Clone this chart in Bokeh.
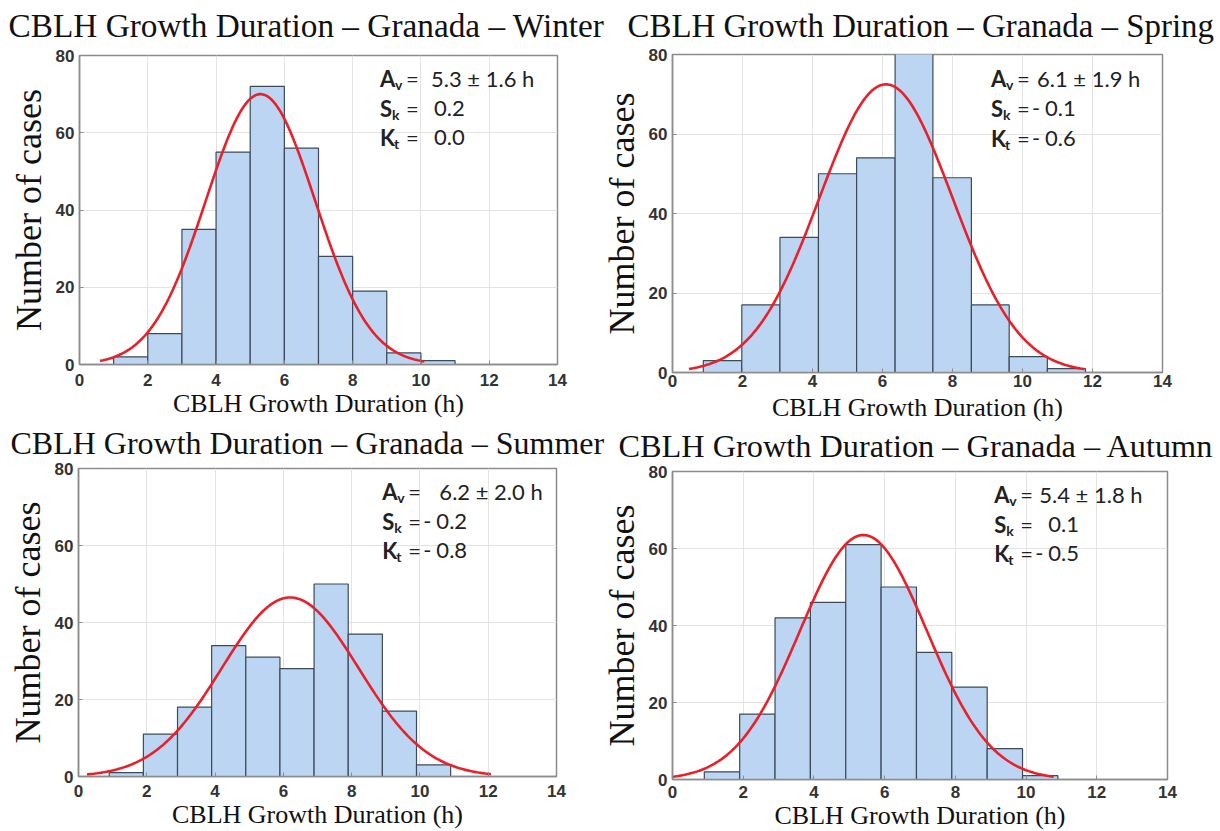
import numpy as np
from bokeh.plotting import figure
from bokeh.layouts import column, row
from bokeh.models import Range1d, FixedTicker, Title, ColumnDataSource
from bokeh.core.properties import value
from bokeh.embed import file_html
from bokeh.resources import INLINE

# ---------------- data ----------------
seasons = ["Winter", "Spring", "Summer", "Autumn"]

winter_edges = [1.0, 2.0, 3.0, 4.0, 5.0, 6.0, 7.0, 8.0, 9.0, 10.0, 11.0]
winter_counts = [2, 8, 35, 55, 72, 56, 28, 19, 3, 1]

spring_edges = [0.88, 1.98, 3.07, 4.17, 5.26, 6.36, 7.44, 8.54, 9.62, 10.71, 11.8]
spring_counts = [3, 17, 34, 50, 54, 85, 49, 17, 4, 1]

summer_edges = [0.9, 1.9, 2.9, 3.9, 4.9, 5.9, 6.9, 7.9, 8.9, 9.9, 10.9]
summer_counts = [1, 11, 18, 34, 31, 28, 50, 37, 17, 3]

autumn_edges = [0.9, 1.9, 2.9, 3.9, 4.9, 5.9, 6.9, 7.9, 8.9, 9.9, 10.9]
autumn_counts = [2, 17, 42, 46, 61, 50, 33, 24, 8, 1]

means = [5.3, 6.1, 6.2, 5.4]
sds = [1.6, 1.9, 2.0, 1.8]
skews = [0.2, -0.1, -0.2, 0.1]
kurts = [0.0, -0.6, -0.8, -0.5]

# fitted normal curve: peak height and drawn x-extent
fit_peaks = [70.0, 72.5, 46.5, 63.5]
fit_start = [0.6, 0.47, 0.25, 0.0]
fit_end = [10.1, 11.77, 12.08, 10.78]

x_ticks = [0, 2, 4, 6, 8, 10, 12, 14]
y_ticks = [0, 20, 40, 60, 80]

title_prefix = "CBLH Growth Duration – Granada – "
x_label = "CBLH Growth Duration (h)"
y_label = "Number of cases"

edges_all = [winter_edges, spring_edges, summer_edges, autumn_edges]
counts_all = [winter_counts, spring_counts, summer_counts, autumn_counts]

# ---------------- layout / style ----------------
# left, frame_w, right, top, frame_h, bottom
frames = [
    (79, 478, 48, 70, 309, 62),
    (80, 490, 58, 70, 318, 56),
    (78, 478, 49, 70, 308, 55),
    (80, 495, 53, 70, 308, 52),
]
# css margins (top, right, bottom, left) to place the frames precisely
margins = [
    (-15, 0, 0, 0),
    (-16, 0, 0, -13),
    (-30, 0, 0, 0),
    (-27, 0, 0, -13),
]
title_sizes = ["33.3px", "32.9px", "32px", "32.3px"]
title_offsets = [-71, -45, -68, -54]
title_standoffs = [23, 21, 15, 15]
tick_standoffs = [9, 2, 8, 6]
xlabel_standoffs = [0, 3, 0, 0]
stat_x = [8.8, 9.1, 8.9, 9.1]
stat_y = [74.0, 66.3, 58.8]
line1_offsets = [51, 46, 57, 45]

BAR_FILL = "#bcd5f2"
BAR_EDGE = "#3d4a5a"
CURVE = "#e8202a"
FRAME = "#8c8c8c"
TXT = "#222222"
STAT_FONT = value("Lato")
STAT_SIZE = "22px"


def make_panel(i):
    left, fw, right, top, fh, bottom = frames[i]
    p = figure(frame_width=fw, frame_height=fh,
               min_border_left=left, min_border_right=right,
               min_border_top=top, min_border_bottom=bottom,
               x_range=Range1d(0, 14), y_range=Range1d(0, 80),
               output_backend="svg", toolbar_location=None,
               background_fill_color="white", border_fill_alpha=0,
               margin=margins[i])
    p.title = Title(text=title_prefix + seasons[i], align="left",
                    offset=title_offsets[i], standoff=title_standoffs[i],
                    text_font="Liberation Serif", text_font_size=title_sizes[i],
                    text_font_style="normal", text_color="#111111")

    edges = edges_all[i]
    counts = counts_all[i]
    src = ColumnDataSource(dict(left=edges[:-1], right=edges[1:],
                                top=counts, bottom=[0] * len(counts)))
    p.quad(left="left", right="right", top="top", bottom="bottom", source=src,
           fill_color=BAR_FILL, line_color=BAR_EDGE, line_width=1.2)

    xs = np.linspace(fit_start[i], fit_end[i], 200)
    ys = fit_peaks[i] * np.exp(-0.5 * ((xs - means[i]) / sds[i]) ** 2)
    p.line(xs, ys, line_color=CURVE, line_width=2.6)

    # statistics text
    letters = ["A", "S", "K"]
    subs = ["v", "k", "t"]
    sub_off = [15, 12, 14]
    xs_s = [stat_x[i]] * 3
    p.text(x=xs_s, y=stat_y, text=letters, text_font=STAT_FONT,
           text_font_size=STAT_SIZE, text_font_style="bold",
           text_baseline="middle", text_color=TXT)
    p.text(x=xs_s, y=stat_y, text=subs, x_offset=sub_off, y_offset=6,
           text_font=STAT_FONT, text_font_size="14px",
           text_font_style="bold", text_baseline="middle", text_color=TXT)
    p.text(x=xs_s, y=stat_y, text=["="] * 3, x_offset=26,
           text_font=STAT_FONT, text_font_size=STAT_SIZE,
           text_baseline="middle", text_color=TXT)
    line1 = f"{means[i]:.1f} ± {sds[i]:.1f} h"
    p.text(x=[stat_x[i]], y=[stat_y[0]], text=[line1], x_offset=line1_offsets[i],
           text_font=STAT_FONT, text_font_size=STAT_SIZE,
           text_baseline="middle", text_color=TXT)
    nums = [skews[i], kurts[i]]
    p.text(x=[stat_x[i]] * 2, y=stat_y[1:], text=[f"{abs(v):.1f}" for v in nums],
           x_offset=54, text_font=STAT_FONT, text_font_size=STAT_SIZE,
           text_baseline="middle", text_color=TXT)
    neg_y = [stat_y[1 + k] for k, v in enumerate(nums) if v < 0]
    if neg_y:
        p.text(x=[stat_x[i]] * len(neg_y), y=neg_y, text=["-"] * len(neg_y),
               x_offset=41, text_font=STAT_FONT, text_font_size=STAT_SIZE,
               text_baseline="middle", text_color=TXT)

    # axes
    p.xaxis.ticker = FixedTicker(ticks=x_ticks)
    p.yaxis.ticker = FixedTicker(ticks=y_ticks)
    p.xgrid.ticker = FixedTicker(ticks=x_ticks)
    p.ygrid.ticker = FixedTicker(ticks=y_ticks)
    p.grid.grid_line_color = "#e3e3e3"
    p.grid.grid_line_width = 1
    for ax in (p.xaxis[0], p.yaxis[0]):
        ax.axis_line_color = FRAME
        ax.axis_line_width = 1.5
        ax.major_tick_in = 4
        ax.major_tick_out = 0
        ax.major_tick_line_color = FRAME
        ax.minor_tick_line_color = None
        ax.major_label_text_font = "Liberation Sans"
        ax.major_label_text_font_style = "bold"
        ax.major_label_text_font_size = "17px"
        ax.major_label_text_color = "#333333"
        ax.axis_label_text_font = "Liberation Serif"
        ax.axis_label_text_font_style = "normal"
        ax.axis_label_text_color = "#111111"
    p.xaxis.axis_label = x_label
    p.xaxis.axis_label_text_font_size = "26px"
    p.xaxis.major_label_standoff = tick_standoffs[i]
    p.xaxis.axis_label_standoff = xlabel_standoffs[i]
    p.yaxis.axis_label = y_label
    p.yaxis.axis_label_text_font_size = "36px"
    p.yaxis.major_label_standoff = 5
    p.yaxis.axis_label_standoff = 4
    p.outline_line_color = FRAME
    p.outline_line_width = 1.5
    p.outline_line_alpha = 1.0
    return p


panels = [make_panel(i) for i in range(4)]
layout = column(row(panels[0], panels[1]), row(panels[2], panels[3]))
layout.spacing = 0

open("out.html", "w").write(file_html(layout, INLINE))
